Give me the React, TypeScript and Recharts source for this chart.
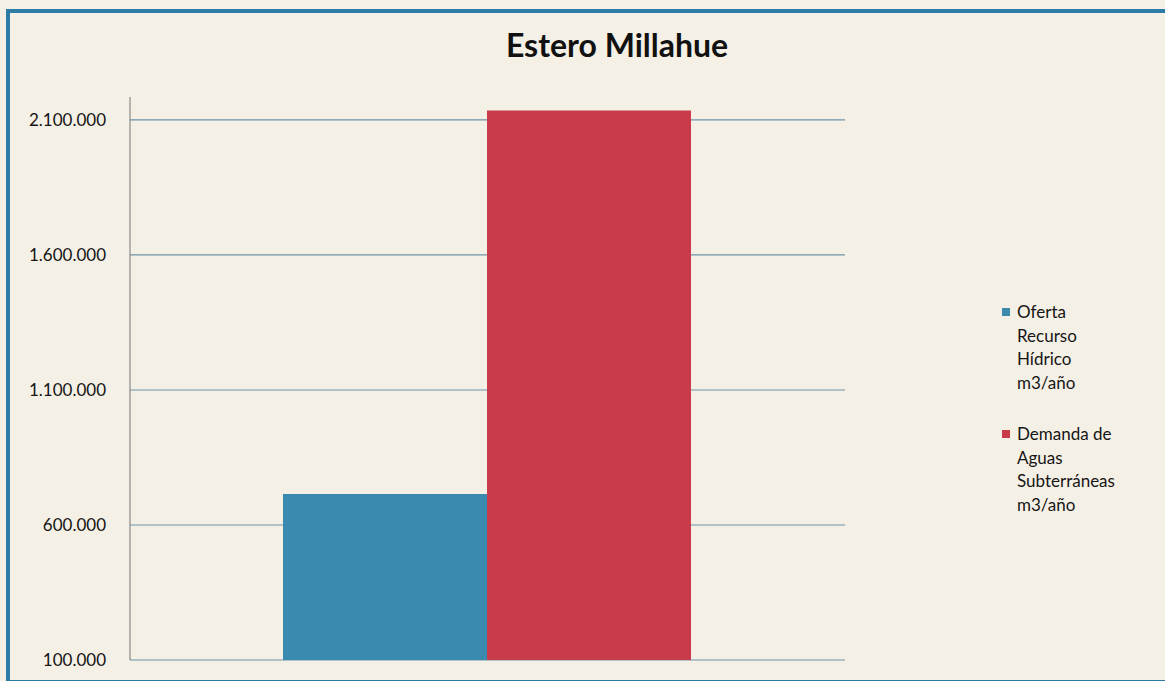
import React from "react";
import { BarChart, Bar, XAxis, YAxis, CartesianGrid, Legend } from "recharts";

const categories = ["Estero Millahue"];
const ofertaValues = [715000];
const demandaValues = [2135000];
const yTicks = [100000, 600000, 1100000, 1600000, 2100000];
const seriesKeys = ["oferta", "demanda"];
const seriesNames = ["Oferta Recurso Hídrico m3/año", "Demanda de Aguas Subterráneas m3/año"];
const legendLines = [
  ["Oferta", "Recurso", "Hídrico", "m3/año"],
  ["Demanda de", "Aguas", "Subterráneas", "m3/año"],
];
const title = "Estero Millahue";

const data = categories.map((c, i) => ({
  name: c,
  oferta: ofertaValues[i],
  demanda: demandaValues[i],
}));

const fmt = (v: number) => String(v).replace(/\B(?=(\d{3})+(?!\d))/g, ".");

const FONT = "Lato, 'Open Sans', sans-serif";
const BLUE = "#3a89ae";
const RED = "#c93b4a";

const LegendContent = (props: any) => {
  const payload = [...(props.payload || [])].sort(
    (a: any, b: any) => seriesKeys.indexOf(a.dataKey) - seriesKeys.indexOf(b.dataKey)
  );
  return (
    <div style={{ fontFamily: FONT, fontSize: 17, color: "#151515", lineHeight: "23.5px" }}>
      {payload.map((p: any, i: number) => {
        const idx = seriesKeys.indexOf(p.dataKey);
        return (
          <div key={i} style={{ display: "flex", alignItems: "flex-start", marginBottom: 28 }}>
            <div
              style={{
                width: 8,
                height: 8,
                background: p.color,
                marginTop: 8,
                marginRight: 7,
                flexShrink: 0,
              }}
            />
            <div>
              {(legendLines[idx] || [p.value]).map((l, j) => (
                <div key={j}>{l}</div>
              ))}
            </div>
          </div>
        );
      })}
    </div>
  );
};

export default function App() {
  return (
    <div
      style={{
        position: "absolute",
        left: 0,
        top: 0,
        width: 1165,
        height: 681,
        background: "#f5f0e6",
        overflow: "hidden",
      }}
    >
      <div
        style={{
          position: "absolute",
          left: 6,
          top: 9,
          width: 1170,
          height: 667,
          borderLeft: "4px solid #2d7ca8",
          borderTop: "4px solid #2d7ca8",
          borderBottom: "4px solid #2d7ca8",
        }}
      />
      <div
        style={{
          position: "absolute",
          left: 417,
          width: 400,
          top: 25,
          textAlign: "center",
          fontFamily: FONT,
          fontWeight: 700,
          fontSize: 32,
          color: "#111",
        }}
      >
        {title}
      </div>
      <div style={{ position: "absolute", left: 0, top: 0 }}>
        <BarChart
          width={1165}
          height={681}
          data={data}
          margin={{ top: 97, right: 320, bottom: 21, left: 0 }}
          barCategoryGap="21.4%"
          barGap={0}
        >
          <CartesianGrid
            vertical={false}
            horizontalValues={yTicks}
            stroke="#6d93aa"
            strokeWidth={1.2}
          />
          <XAxis
            dataKey="name"
            height={0}
            tick={false}
            tickLine={false}
            axisLine={{ stroke: "#444", strokeWidth: 1.4 }}
          />
          <YAxis
            width={130}
            domain={[100000, 2185000]}
            ticks={yTicks}
            allowDataOverflow
            tickFormatter={fmt}
            tickLine={false}
            tickSize={0}
            tickMargin={24}
            axisLine={{ stroke: "#777", strokeWidth: 1 }}
            tick={{ fontFamily: FONT, fontSize: 17, fill: "#151515" }}
          />
          <Legend
            layout="horizontal"
            align="center"
            verticalAlign="middle"
            wrapperStyle={{ left: 1002, top: 300, width: 160, height: "auto" }}
            content={<LegendContent />}
          />
          <Bar dataKey="oferta" name={seriesNames[0]} fill={BLUE} isAnimationActive={false} />
          <Bar dataKey="demanda" name={seriesNames[1]} fill={RED} isAnimationActive={false} />
        </BarChart>
      </div>
    </div>
  );
}
